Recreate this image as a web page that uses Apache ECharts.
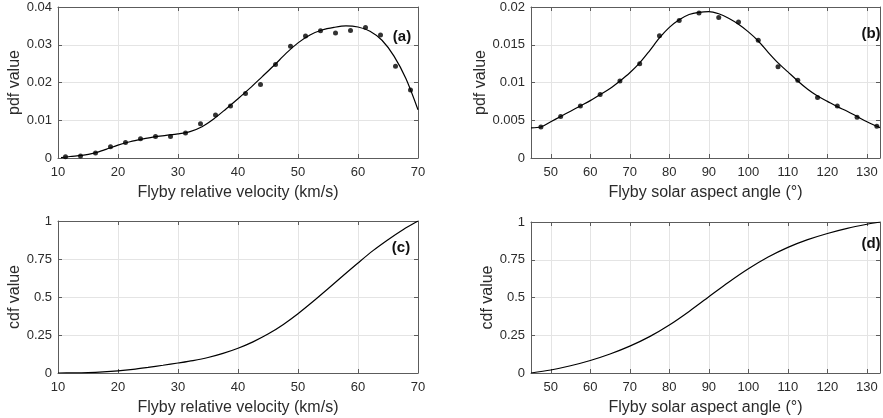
<!DOCTYPE html>
<html>
<head>
<meta charset="utf-8">
<script src="https://cdn.jsdelivr.net/npm/echarts@6/dist/echarts.min.js"></script>
<style>
html,body{margin:0;padding:0;background:#fff;}
#c{width:883px;height:418px;}
</style>
</head>
<body>
<div id="c"></div>
<script>
// ---------- DATA ----------
const velBinCenters = [11.25,13.75,16.25,18.75,21.25,23.75,26.25,28.75,31.25,33.75,36.25,38.75,41.25,43.75,46.25,48.75,51.25,53.75,56.25,58.75,61.25,63.75,66.25,68.75];
const velPdfHist = [0.0003,0.0005,0.0013,0.0030,0.0041,0.0051,0.0057,0.0057,0.0066,0.0091,0.0114,0.0138,0.0171,0.0195,0.0248,0.0296,0.0323,0.0337,0.0331,0.0338,0.0346,0.0326,0.0243,0.0180];
const velCurveX = [10.5,12,14,16,18,20,22,24,26,28,30,32,34,36,38,40,42,44,46,48,50,52,54,56,58,60,62,64,66,68,70];
const velPdfCurve = [0.0001,0.0004,0.0007,0.0013,0.0023,0.0034,0.0043,0.0050,0.0056,0.0060,0.0064,0.0070,0.0083,0.0104,0.0130,0.0157,0.0185,0.0215,0.0245,0.0277,0.0305,0.0326,0.0339,0.0346,0.0350,0.0347,0.0336,0.0312,0.0270,0.0210,0.0128];

const angBinCenters = [47.5,52.5,57.5,62.5,67.5,72.5,77.5,82.5,87.5,92.5,97.5,102.5,107.5,112.5,117.5,122.5,127.5,132.5];
const angPdfHist = [0.0041,0.0055,0.0069,0.0084,0.0102,0.0125,0.0162,0.0182,0.0192,0.0186,0.0180,0.0156,0.0121,0.0103,0.0080,0.0069,0.0054,0.0042];
const angCurveX = [45,47.5,50,52.5,55,57.5,60,62.5,65,67.5,70,72.5,75,77.5,80,82.5,85,87.5,90,92.5,95,97.5,100,102.5,105,107.5,110,112.5,115,117.5,120,122.5,125,127.5,130,132.5,133.3];
const angPdfCurve = [0.0040,0.0041,0.0048,0.0055,0.0062,0.0069,0.0076,0.0084,0.0092,0.0102,0.0113,0.0126,0.0142,0.0159,0.0173,0.0183,0.0190,0.0193,0.0194,0.0191,0.0185,0.0177,0.0167,0.0155,0.0140,0.0126,0.0114,0.0102,0.0091,0.0082,0.0075,0.0068,0.0062,0.0055,0.0048,0.0042,0.0040];

const velCdfX = [10,12.5,15,17.5,20,22.5,25,27.5,30,32.5,35,37.5,40,42.5,45,47.5,50,52.5,55,57.5,60,62.5,65,67.5,70];
const velCdf = [0,0.0005,0.0025,0.007,0.014,0.024,0.037,0.051,0.066,0.082,0.102,0.129,0.163,0.205,0.256,0.318,0.390,0.470,0.554,0.640,0.724,0.805,0.877,0.943,1.0];

const angCdfX = [45,50,55,60,65,70,75,80,85,90,95,100,105,110,115,120,125,130,133.3];
const angCdf = [0,0.020,0.048,0.083,0.126,0.178,0.241,0.318,0.408,0.505,0.601,0.690,0.768,0.832,0.883,0.924,0.958,0.985,1.0];

const velTicks = {min:10, max:70, interval:10};
const angTicks = {min:45, max:133.3, interval:10};
const pdfVelY = {min:0, max:0.04, interval:0.01};
const pdfAngY = {min:0, max:0.02, interval:0.005};
const cdfY = {min:0, max:1, interval:0.25};

const xNameVel = 'Flyby relative velocity (km/s)';
const xNameAng = 'Flyby solar aspect angle (°)';
const panelLabels = ['(a)','(b)','(c)','(d)'];

// ---------- STYLE ----------
const FONT = '"Liberation Sans", Arial, Helvetica, sans-serif';
const axisCol = '#5c5c5c';
const textCol = '#2b2b2b';
const gridCol = '#e4e4e4';

function zip(xs, ys){ return xs.map((x,i)=>[x, ys[i]]); }

const grids = [
  {left:58, top:7, width:360, height:151},
  {left:531, top:7, right:1, height:151},
  {left:58, top:221, width:360, height:152},
  {left:531, top:222, right:1, height:151}
];

function xMain(gi, t, name){
  const o = {
    type:'value', gridIndex:gi, min:t.min, max:t.max, position:'bottom',
    name:name, nameLocation:'middle', nameGap:27,
    nameTextStyle:{fontFamily:FONT, fontSize:16, color:textCol},
    axisLine:{show:true, onZero:false, lineStyle:{color:axisCol, width:1}},
    axisTick:{show:true, inside:true, length:4, lineStyle:{color:axisCol}},
    axisLabel:{fontFamily:FONT, fontSize:13, color:textCol, margin:8,
      formatter:function(v){ return (Math.abs(v/10 - Math.round(v/10))<1e-6) ? String(v) : ''; }},
    splitLine:{show:true, lineStyle:{color:gridCol, width:1}}
  };
  if (t.min % t.interval === 0) { o.interval = t.interval; }
  else { o.minInterval = t.interval; o.maxInterval = t.interval; o.splitNumber = 9; }
  return o;
}
function xTop(gi, t){
  const o = {
    type:'value', gridIndex:gi, min:t.min, max:t.max, position:'top',
    axisLine:{show:true, onZero:false, lineStyle:{color:axisCol, width:1}},
    axisTick:{show:true, inside:true, length:4, lineStyle:{color:axisCol}},
    axisLabel:{show:false}, splitLine:{show:false}
  };
  if (t.min % t.interval === 0) { o.interval = t.interval; }
  else { o.minInterval = t.interval; o.maxInterval = t.interval; o.splitNumber = 9; }
  return o;
}
function yMain(gi, t, name){
  return {
    type:'value', gridIndex:gi, min:t.min, max:t.max, interval:t.interval, position:'left',
    name:name, nameLocation:'middle', nameGap:35,
    nameTextStyle:{fontFamily:FONT, fontSize:16, color:textCol},
    axisLine:{show:true, lineStyle:{color:axisCol, width:1}},
    axisTick:{show:true, inside:true, length:4, lineStyle:{color:axisCol}},
    axisLabel:{fontFamily:FONT, fontSize:13, color:textCol, margin:6},
    splitLine:{show:true, lineStyle:{color:gridCol, width:1}}
  };
}
function yRight(gi, t){
  return {
    type:'value', gridIndex:gi, min:t.min, max:t.max, interval:t.interval, position:'right',
    axisLine:{show:true, lineStyle:{color:axisCol, width:1}},
    axisTick:{show:true, inside:true, length:4, lineStyle:{color:axisCol}},
    axisLabel:{show:false}, splitLine:{show:false}
  };
}

const xAxes = [
  xMain(0, velTicks, xNameVel), xMain(1, angTicks, xNameAng),
  xMain(2, velTicks, xNameVel), xMain(3, angTicks, xNameAng),
  xTop(0, velTicks), xTop(1, angTicks), xTop(2, velTicks), xTop(3, angTicks)
];
const yAxes = [
  yMain(0, pdfVelY, 'pdf value'), yMain(1, pdfAngY, 'pdf value'),
  yMain(2, cdfY, 'cdf value'), yMain(3, cdfY, 'cdf value'),
  yRight(0, pdfVelY), yRight(1, pdfAngY), yRight(2, cdfY), yRight(3, cdfY)
];

function lineSeries(i, data){
  return {type:'line', xAxisIndex:i, yAxisIndex:i, data:data, smooth:0.3,
    showSymbol:false, symbol:'none', lineStyle:{color:'#000', width:1.2}, silent:true, animation:false, z:3};
}
function dotSeries(i, data){
  return {type:'scatter', xAxisIndex:i, yAxisIndex:i, data:data, symbol:'circle', symbolSize:5,
    itemStyle:{color:'#000'}, silent:true, animation:false, z:4};
}

const series = [
  lineSeries(0, zip(velCurveX, velPdfCurve)),
  dotSeries(0, zip(velBinCenters, velPdfHist)),
  lineSeries(1, zip(angCurveX, angPdfCurve)),
  dotSeries(1, zip(angBinCenters, angPdfHist)),
  lineSeries(2, zip(velCdfX, velCdf)),
  lineSeries(3, zip(angCdfX, angCdf))
];

const labelPos = [[402,37],[871,34],[401,248],[871,244]];
const graphic = panelLabels.map((t,i)=>({
  type:'text', x:labelPos[i][0], y:labelPos[i][1], z:10,
  style:{text:t, fontFamily:FONT, fontSize:15, fontWeight:'bold', fill:'#111', align:'center', verticalAlign:'middle'}
}));

const chart = echarts.init(document.getElementById('c'), null, {renderer:'canvas'});
chart.setOption({
  animation:false,
  backgroundColor:'#fff',
  grid:grids,
  xAxis:xAxes,
  yAxis:yAxes,
  series:series,
  graphic:graphic
});
</script>
</body>
</html>
